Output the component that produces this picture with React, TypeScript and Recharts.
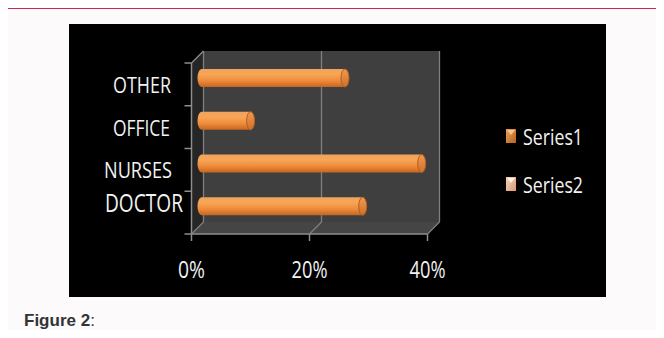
import React from 'react';
import { BarChart, Bar, XAxis, YAxis, CartesianGrid, Legend } from 'recharts';

// ---- data ----
const categories = ['OTHER', 'OFFICE', 'NURSES', 'DOCTOR'];
const series1 = [25, 9, 38, 28];
const series2: (number | null)[] = [null, null, null, null];
const xTicks = [0, 20, 40];
const seriesNames = ['Series1', 'Series2'];

const data = categories.map((c, i) => ({ name: c, s1: series1[i], s2: series2[i] }));

// ---- layout ----
const CW = 537;
const CH = 273;
const D = 6; // half depth of the 3D box
const Y_AXIS_W = 100;
const X_AXIS_H = 40;
const MARGIN = { top: 33, left: 28.5, right: 172.5, bottom: 29 };
const PL = MARGIN.left + Y_AXIS_W;
const PT = MARGIN.top;
const PW = CW - PL - MARGIN.right;
const PH = CH - PT - MARGIN.bottom - X_AXIS_H;

const FONT = '"Open Sans", "Noto Sans", sans-serif';
const TEXT = '#f2f2f2';
const AXIS = '#8e8e8e';

const yLabelStyle: Record<string, { dx: number; dy: number; size: number; len: number }> = {
  OTHER: { dx: -26.5, dy: 0.5, size: 22, len: 58 },
  OFFICE: { dx: -27.5, dy: 1.2, size: 22, len: 57 },
  NURSES: { dx: -25.5, dy: 0.5, size: 22, len: 68 },
  DOCTOR: { dx: -14.5, dy: -9.6, size: 25, len: 78 },
};

const YTick = (props: any) => {
  const { x, y, payload } = props;
  const s = yLabelStyle[payload.value] || { dx: -26, dy: 0, size: 22, len: 60 };
  const base = y + D + s.dy + (0.714 * s.size) / 2;
  return (
    <text
      x={x + s.dx}
      y={base}
      textAnchor="end"
      fill={TEXT}
      fontSize={s.size}
      fontFamily={FONT}
      textLength={s.len}
      lengthAdjust="spacingAndGlyphs"
    >
      {payload.value}
    </text>
  );
};

const XTick = (props: any) => {
  const { x, y, payload } = props;
  const fx = x - D;
  const label = `${payload.value}%`;
  return (
    <g>
      <line x1={fx} y1={y + D} x2={fx} y2={y + D + 7} stroke={AXIS} strokeWidth={1.5} />
      <text
        x={fx}
        y={y + 50}
        textAnchor="middle"
        fill={TEXT}
        fontSize={23}
        fontFamily={FONT}
        textLength={9 * (label.length + 1)}
        lengthAdjust="spacingAndGlyphs"
      >
        {label}
      </text>
    </g>
  );
};

const gridLine = (props: any) => {
  const { x1, y1, y2, key, index } = props;
  return (
    <g key={key ?? `v${index}`}>
      <line x1={x1 + D} y1={y1 - D} x2={x1 + D} y2={y2 - D} stroke="#808080" strokeWidth={1.3} />
      <line x1={x1 + D} y1={y2 - D} x2={x1 - D} y2={y2 + D} stroke="#808080" strokeWidth={1.3} />
    </g>
  );
};

const CylinderBar = (props: any) => {
  const { x, y, width, height } = props;
  if (width == null || !(width > 0) || !height) return null;
  const ry = height / 2;
  const rx = 4;
  const body = `M${x + rx},${y} L${x + width},${y} L${x + width},${y + height} L${x + rx},${y + height} A${rx},${ry} 0 0 1 ${x + rx},${y} Z`;
  return (
    <g>
      <path d={body} fill="url(#cylGrad)" />
      <ellipse cx={x + width} cy={y + ry} rx={rx} ry={ry} fill="url(#capGrad)" stroke="#b65d1c" strokeWidth={1} />
    </g>
  );
};

const renderLegend = (props: any) => {
  const payload = props.payload || [];
  return (
    <svg width={110} height={100} style={{ display: 'block' }}>
      {payload.map((p: any, i: number) => {
        const top = 10 + i * 48;
        const idx = seriesNames.indexOf(p.value);
        const k = idx < 0 ? i : idx;
        return (
          <g key={`leg${i}`}>
            <rect x={7} y={top} width={10} height={14} fill={`url(#leg${k + 1})`} />
            <polygon
              points={`${8},${top + 1} ${16},${top + 1} ${12},${top + 6}`}
              fill={k === 0 ? '#f7c58c' : '#fff1e6'}
            />
            <text
              x={24}
              y={top + 16}
              fill={TEXT}
              fontSize={22}
              fontFamily={FONT}
              textLength={60}
              lengthAdjust="spacingAndGlyphs"
            >
              {p.value}
            </text>
          </g>
        );
      })}
    </svg>
  );
};

const Walls = () => {
  const fl = PL - D, ft = PT + D, fb = PT + PH + D, fr = PL + PW - D;
  const bl = PL + D, bt = PT - D, bb = PT + PH - D, br = PL + PW + D;
  const ticks = [0, 1, 2, 3, 4].map((i) => ft + (i * (fb - ft)) / 4);
  return (
    <svg width={CW} height={CH} style={{ position: 'absolute', left: 0, top: 0 }}>
      <defs>
        <linearGradient id="cylGrad" x1="0" y1="0" x2="0" y2="1">
          <stop offset="0" stopColor="#f0a35e" />
          <stop offset="0.3" stopColor="#f7a656" />
          <stop offset="0.65" stopColor="#ef8b3b" />
          <stop offset="1" stopColor="#c5661f" />
        </linearGradient>
        <linearGradient id="capGrad" x1="0" y1="0" x2="0" y2="1">
          <stop offset="0" stopColor="#f09a52" />
          <stop offset="1" stopColor="#d07028" />
        </linearGradient>
        <linearGradient id="leg1" x1="0" y1="0" x2="1" y2="1">
          <stop offset="0" stopColor="#e8a05a" />
          <stop offset="1" stopColor="#b8621f" />
        </linearGradient>
        <linearGradient id="leg2" x1="0" y1="0" x2="1" y2="1">
          <stop offset="0" stopColor="#f6d2b8" />
          <stop offset="1" stopColor="#d69c78" />
        </linearGradient>
      </defs>
      <rect x={bl} y={bt} width={br - bl} height={bb - bt} fill="#3f3f3f" />
      <polygon points={`${fl},${ft} ${bl},${bt} ${bl},${bb} ${fl},${fb}`} fill="#262626" />
      <polygon points={`${fl},${fb} ${bl},${bb} ${br},${bb} ${fr},${fb}`} fill="#454545" />
      <line x1={fl} y1={ft} x2={bl} y2={bt} stroke={AXIS} strokeWidth={1.3} />
      <line x1={fl} y1={ft} x2={fl} y2={fb} stroke={AXIS} strokeWidth={1.5} />
      <line x1={fl} y1={fb} x2={fr} y2={fb} stroke={AXIS} strokeWidth={1.5} />
      {ticks.map((ty, i) => (
        <line key={`yt${i}`} x1={fl - 7} y1={ty} x2={fl} y2={ty} stroke={AXIS} strokeWidth={1.5} />
      ))}
    </svg>
  );
};

export default function App() {
  return (
    <div style={{ position: 'relative', width: 664, height: 338, margin: -8, overflow: 'hidden', background: '#ffffff' }}>
      <div
        style={{
          position: 'absolute',
          left: 6,
          top: 7,
          width: 720,
          height: 400,
          borderLeft: '2px solid #c8264f',
          borderTop: '2px solid #c8264f',
          background: '#fcfafb',
        }}
      />
      <div style={{ position: 'absolute', left: 69, top: 24, width: CW, height: CH, background: '#000000' }}>
        <Walls />
        <div style={{ position: 'absolute', left: 0, top: 0 }}>
          <BarChart width={CW} height={CH} data={data} layout="vertical" margin={MARGIN}>
            <CartesianGrid horizontal={false} vertical={gridLine} fill="none" stroke="none" />
            <XAxis
              type="number"
              domain={[0, 40]}
              ticks={xTicks}
              height={X_AXIS_H}
              axisLine={false}
              tickLine={false}
              tickSize={0}
              tickMargin={0}
              tick={<XTick />}
              interval={0}
            />
            <YAxis
              type="category"
              dataKey="name"
              width={Y_AXIS_W}
              axisLine={false}
              tickLine={false}
              tickSize={0}
              tickMargin={0}
              tick={<YTick />}
              interval={0}
            />
            <Legend
              layout="vertical"
              align="center"
              verticalAlign="middle"
              width={110}
              height={100}
              wrapperStyle={{ left: 430, top: 95, width: 110, height: 100 }}
              content={renderLegend}
            />
            <Bar dataKey="s1" name={seriesNames[0]} stackId="a" fill="#ef8b3b" barSize={18} shape={<CylinderBar />} isAnimationActive={false} />
            <Bar dataKey="s2" name={seriesNames[1]} stackId="a" fill="#f2c3a2" barSize={18} shape={<CylinderBar />} isAnimationActive={false} />
          </BarChart>
        </div>
      </div>
      <div
        style={{
          position: 'absolute',
          left: 24,
          top: 312,
          fontFamily: '"Liberation Sans", Arial, sans-serif',
          fontSize: 17,
          lineHeight: '17px',
          color: '#333333',
          whiteSpace: 'nowrap',
        }}
      >
        <b>Figure 2</b>:
      </div>
    </div>
  );
}
